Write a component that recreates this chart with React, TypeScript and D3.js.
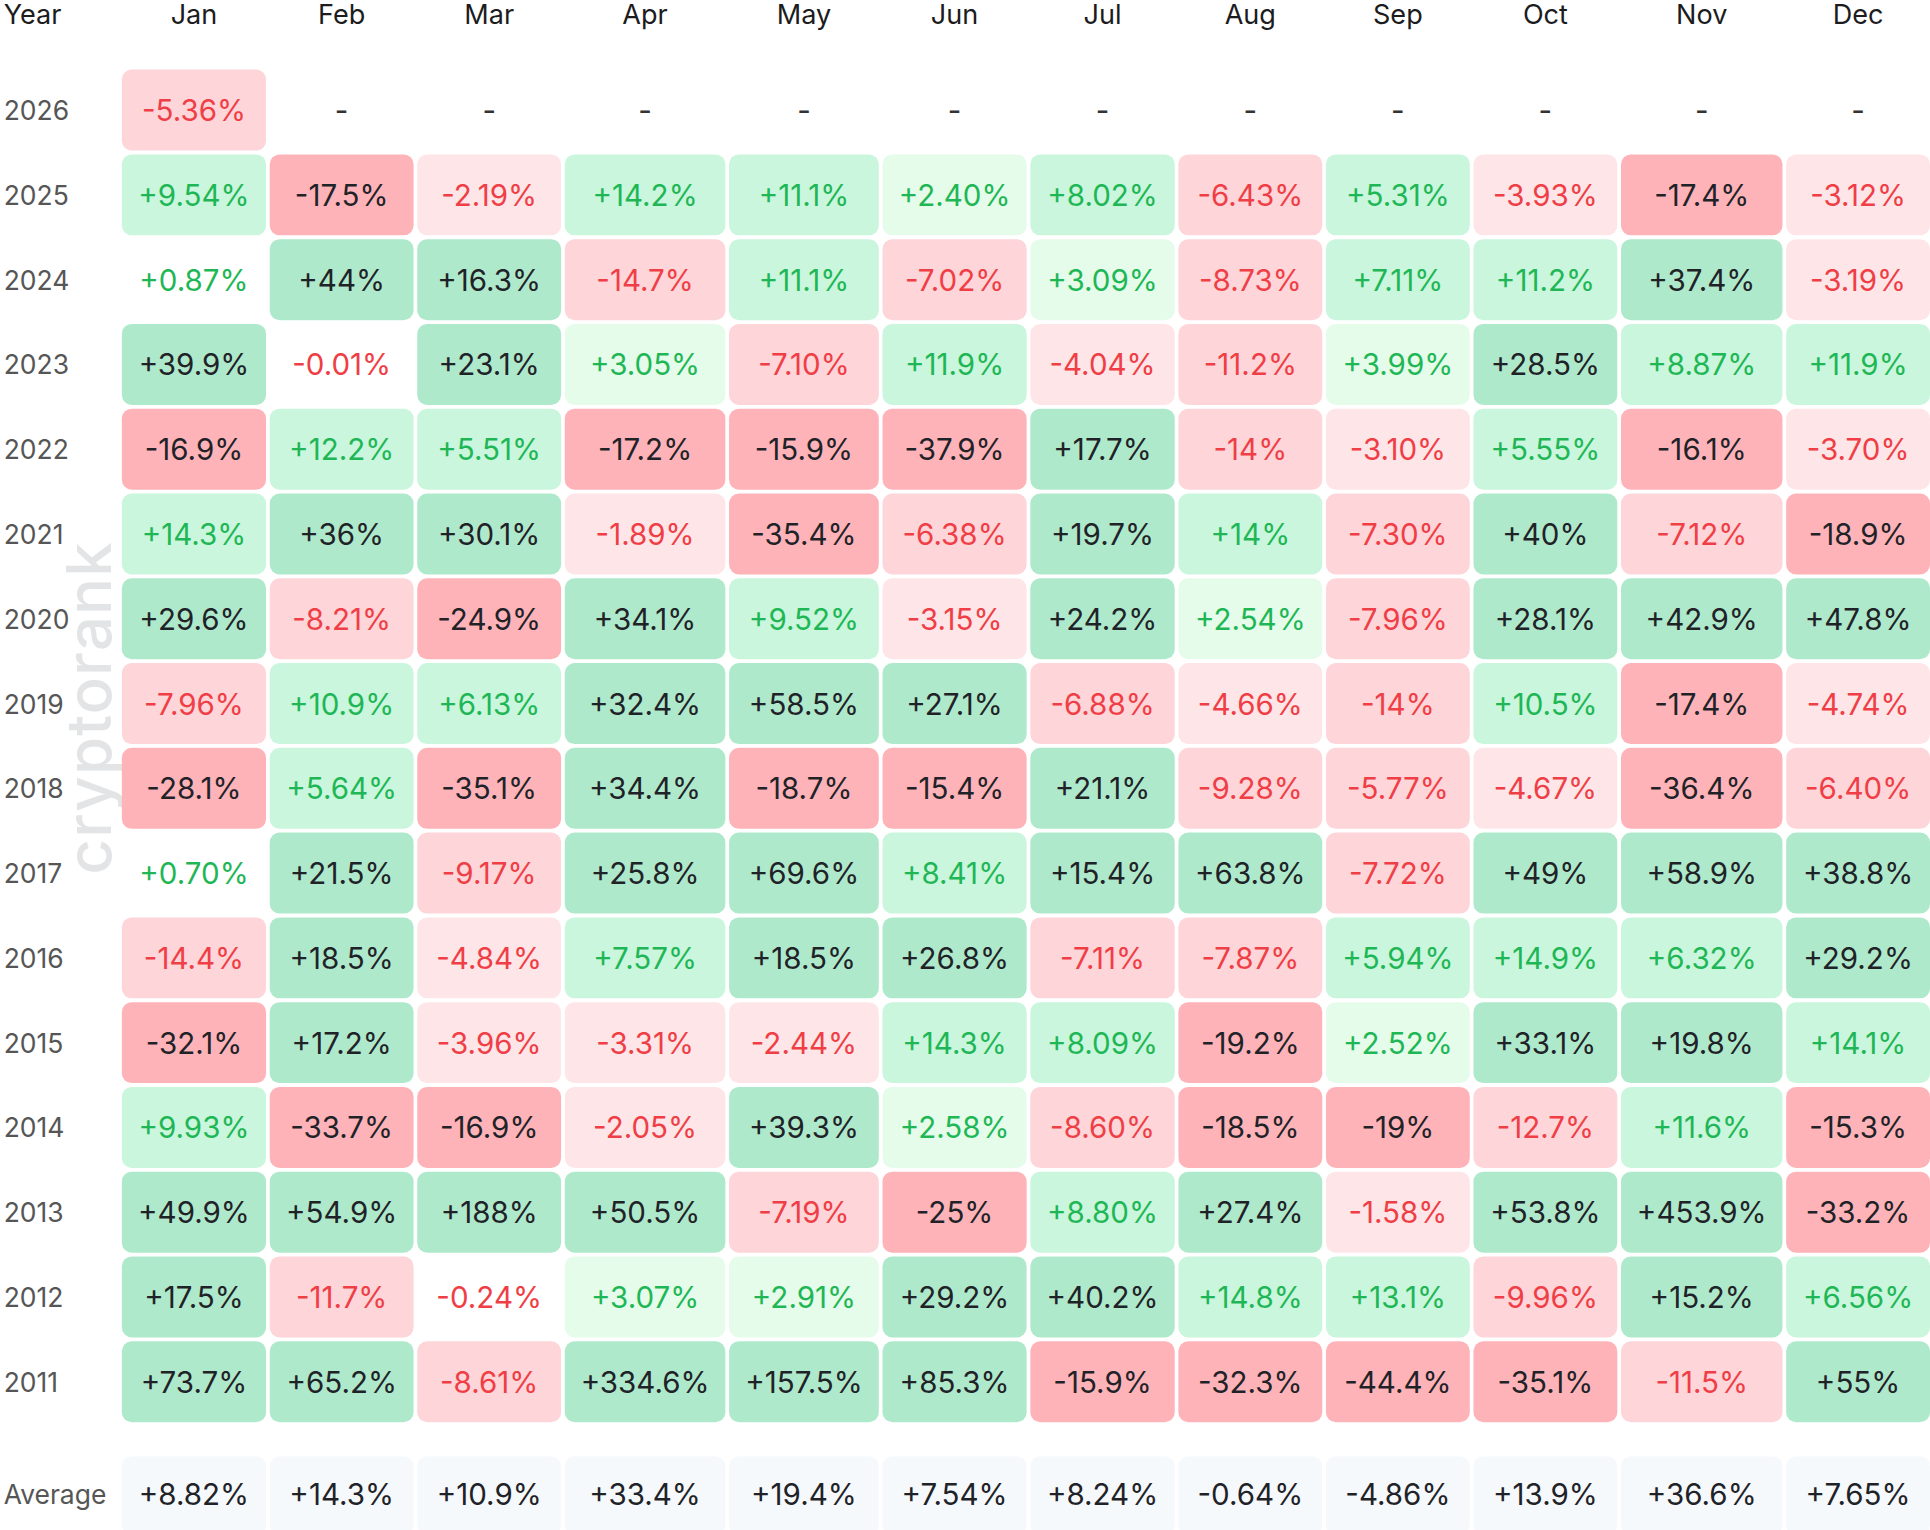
import { useMemo } from "react";
import * as d3 from "d3";

const MONTHS = ["Jan", "Feb", "Mar", "Apr", "May", "Jun", "Jul", "Aug", "Sep", "Oct", "Nov", "Dec"];
const YEARS = ["2026", "2025", "2024", "2023", "2022", "2021", "2020", "2019", "2018", "2017", "2016", "2015", "2014", "2013", "2012", "2011"];

// monthly returns in %, null = no data yet
const R2026 = [-5.36, null, null, null, null, null, null, null, null, null, null, null];
const R2025 = [9.54, -17.5, -2.19, 14.2, 11.1, 2.4, 8.02, -6.43, 5.31, -3.93, -17.4, -3.12];
const R2024 = [0.87, 44, 16.3, -14.7, 11.1, -7.02, 3.09, -8.73, 7.11, 11.2, 37.4, -3.19];
const R2023 = [39.9, -0.01, 23.1, 3.05, -7.1, 11.9, -4.04, -11.2, 3.99, 28.5, 8.87, 11.9];
const R2022 = [-16.9, 12.2, 5.51, -17.2, -15.9, -37.9, 17.7, -14, -3.1, 5.55, -16.1, -3.7];
const R2021 = [14.3, 36, 30.1, -1.89, -35.4, -6.38, 19.7, 14, -7.3, 40, -7.12, -18.9];
const R2020 = [29.6, -8.21, -24.9, 34.1, 9.52, -3.15, 24.2, 2.54, -7.96, 28.1, 42.9, 47.8];
const R2019 = [-7.96, 10.9, 6.13, 32.4, 58.5, 27.1, -6.88, -4.66, -14, 10.5, -17.4, -4.74];
const R2018 = [-28.1, 5.64, -35.1, 34.4, -18.7, -15.4, 21.1, -9.28, -5.77, -4.67, -36.4, -6.4];
const R2017 = [0.7, 21.5, -9.17, 25.8, 69.6, 8.41, 15.4, 63.8, -7.72, 49, 58.9, 38.8];
const R2016 = [-14.4, 18.5, -4.84, 7.57, 18.5, 26.8, -7.11, -7.87, 5.94, 14.9, 6.32, 29.2];
const R2015 = [-32.1, 17.2, -3.96, -3.31, -2.44, 14.3, 8.09, -19.2, 2.52, 33.1, 19.8, 14.1];
const R2014 = [9.93, -33.7, -16.9, -2.05, 39.3, 2.58, -8.6, -18.5, -19, -12.7, 11.6, -15.3];
const R2013 = [49.9, 54.9, 188, 50.5, -7.19, -25, 8.8, 27.4, -1.58, 53.8, 453.9, -33.2];
const R2012 = [17.5, -11.7, -0.24, 3.07, 2.91, 29.2, 40.2, 14.8, 13.1, -9.96, 15.2, 6.56];
const R2011 = [73.7, 65.2, -8.61, 334.6, 157.5, 85.3, -15.9, -32.3, -44.4, -35.1, -11.5, 55];
const AVERAGE = [8.82, 14.3, 10.9, 33.4, 19.4, 7.54, 8.24, -0.64, -4.86, 13.9, 36.6, 7.65];

const ROWS = [R2026, R2025, R2024, R2023, R2022, R2021, R2020, R2019, R2018, R2017, R2016, R2015, R2014, R2013, R2012, R2011];

const W = 1568;
const H = 1243;
const FONT = "Inter, 'Noto Sans', sans-serif";
const CELL_FONT = 24;

function fmt(v: number | null) {
  if (v == null) return "-";
  const a = Math.abs(v);
  let s = a < 10 ? a.toFixed(2) : a.toFixed(1);
  s = s.replace(/\.0$/, "");
  return (v >= 0 ? "+" : "-") + s + "%";
}

function level(v: number) {
  const a = Math.abs(v);
  if (a >= 15) return 3;
  if (a >= 5) return 2;
  if (a >= 1) return 1;
  return 0;
}

const GREENS = ["none", "#e5fcea", "#c9f6dc", "#afe9cb"];
const REDS = ["none", "#fee6e8", "#fed5d9", "#feb3b9"];

export default function App() {
  // auto column layout: widest label in each column (with a floor), then fit to the page
  const cols = useMemo(() => {
    const ctx = document.createElement("canvas").getContext("2d")!;
    ctx.font = `${CELL_FONT}px ${FONT}`;
    const floor = ctx.measureText("+00.0%").width;
    const widths = MONTHS.map((_, j) =>
      Math.max(floor, d3.max([...ROWS.map((r) => r[j]), AVERAGE[j]], (v) => ctx.measureText(fmt(v)).width)!) + 34
    );
    const cum = [0, ...d3.cumsum(widths)];
    const x = d3.scaleLinear().domain([0, cum[cum.length - 1]]).range([99, W + 3]);
    return MONTHS.map((m, j) => ({ m, x0: x(cum[j]), x1: x(cum[j + 1]) - 3 }));
  }, []);

  const y = d3.scaleBand<string>().domain(YEARS).range([55, 1157]).paddingInner(0.045).paddingOuter(0.0225);
  const avgTop = 1183;
  const avgH = 64;

  return (
    <svg
      width={1930}
      height={1530}
      viewBox={`0 0 ${W} ${H}`}
      style={{ position: "absolute", left: 0, top: 0, background: "#fff" }}
      fontFamily={FONT}
    >
      <rect width={W} height={H} fill="#fff" />

      {/* header */}
      <text x={3} y={12} fontSize={22} fill="#1c1c1e" dominantBaseline="central">Year</text>
      {cols.map((c) => (
        <text key={c.m} x={(c.x0 + c.x1) / 2} y={12} fontSize={22} fill="#1c1c1e" textAnchor="middle" dominantBaseline="central">
          {c.m}
        </text>
      ))}

      {/* watermark */}
      <text
        transform="translate(72,575) rotate(-90)"
        fontSize={50}
        fontWeight={500}
        fill="#e3e4e6"
        textAnchor="middle"
        dominantBaseline="central"
        letterSpacing={1}
      >
        cryptorank
      </text>

      {YEARS.map((yr, i) => {
        const top = y(yr)!;
        const h = y.bandwidth();
        return (
          <g key={yr}>
            <text x={3} y={top + h / 2} fontSize={21.5} fill="#565656" dominantBaseline="central">{yr}</text>
            {ROWS[i].map((v, j) => {
              const c = cols[j];
              const cx = (c.x0 + c.x1) / 2;
              if (v == null) {
                return (
                  <text key={j} x={cx} y={top + h / 2} fontSize={CELL_FONT} fill="#333" textAnchor="middle" dominantBaseline="central">
                    -
                  </text>
                );
              }
              const lv = level(v);
              const bg = v >= 0 ? GREENS[lv] : REDS[lv];
              const color = lv === 3 ? "#1f2328" : v >= 0 ? "#1fb756" : "#ef3e46";
              return (
                <g key={j}>
                  {lv > 0 && <rect x={c.x0} y={top} width={c.x1 - c.x0} height={h} rx={8} fill={bg} />}
                  <text x={cx} y={top + h / 2} fontSize={CELL_FONT} fill={color} textAnchor="middle" dominantBaseline="central">
                    {fmt(v)}
                  </text>
                </g>
              );
            })}
          </g>
        );
      })}

      {/* average row */}
      <text x={3} y={avgTop + 31} fontSize={21.5} fill="#565656" dominantBaseline="central">Average</text>
      {AVERAGE.map((v, j) => {
        const c = cols[j];
        return (
          <g key={j}>
            <rect x={c.x0} y={avgTop} width={c.x1 - c.x0} height={avgH} rx={8} fill="#f6f9fc" />
            <text x={(c.x0 + c.x1) / 2} y={avgTop + 31} fontSize={CELL_FONT} fill="#1f2328" textAnchor="middle" dominantBaseline="central">
              {fmt(v)}
            </text>
          </g>
        );
      })}
    </svg>
  );
}
